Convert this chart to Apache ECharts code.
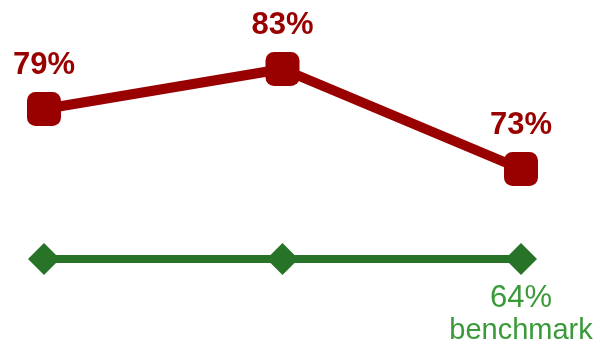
<!DOCTYPE html>
<html><head><meta charset="utf-8">
<script src="https://cdn.jsdelivr.net/npm/echarts@6/dist/echarts.min.js"></script>
<style>html,body{margin:0;padding:0;background:#fff}#c{width:598px;height:343px}</style>
</head><body><div id="c"></div>
<script>
var categories = ['1', '2', '3'];
var actual = [79, 83, 73];
var benchmark = [64, 64, 64];
var benchmarkLabel = 'benchmark';

var chart = echarts.init(document.getElementById('c'), null, {renderer: 'canvas'});
var bdata = benchmark.map(function (v, i) {
  if (i === benchmark.length - 1) {
    return {
      value: v,
      label: {
        show: true, position: 'bottom', distance: 6,
        formatter: '{a|{c}%}\n{b|' + benchmarkLabel + '}',
        rich: {
          a: {fontFamily: 'Liberation Sans', fontSize: 31, color: '#3a9a3a', lineHeight: 34, align: 'center'},
          b: {fontFamily: 'Liberation Sans', fontSize: 29, color: '#3a9a3a', lineHeight: 32, align: 'center'}
        }
      }
    };
  }
  return v;
});
chart.setOption({
  animation: false,
  grid: {left: 44, right: 77, top: 19, bottom: 44},
  xAxis: {type: 'category', data: categories, boundaryGap: false, show: false},
  yAxis: {type: 'value', min: 60, max: 88, show: false},
  series: [
    {
      type: 'line', data: bdata, symbol: 'diamond', symbolSize: [32, 32],
      lineStyle: {color: '#277327', width: 8},
      itemStyle: {color: '#277327'},
      label: {show: false},
      z: 2
    },
    {
      type: 'line', data: actual, symbol: 'roundRect', symbolSize: 34,
      lineStyle: {color: '#990000', width: 10},
      itemStyle: {color: '#990000'},
      label: {
        show: true, position: 'top', distance: 11,
        formatter: '{c}%', color: '#990000',
        fontFamily: 'Liberation Sans', fontWeight: 'bold', fontSize: 31
      },
      z: 3
    }
  ]
});
</script></body></html>
